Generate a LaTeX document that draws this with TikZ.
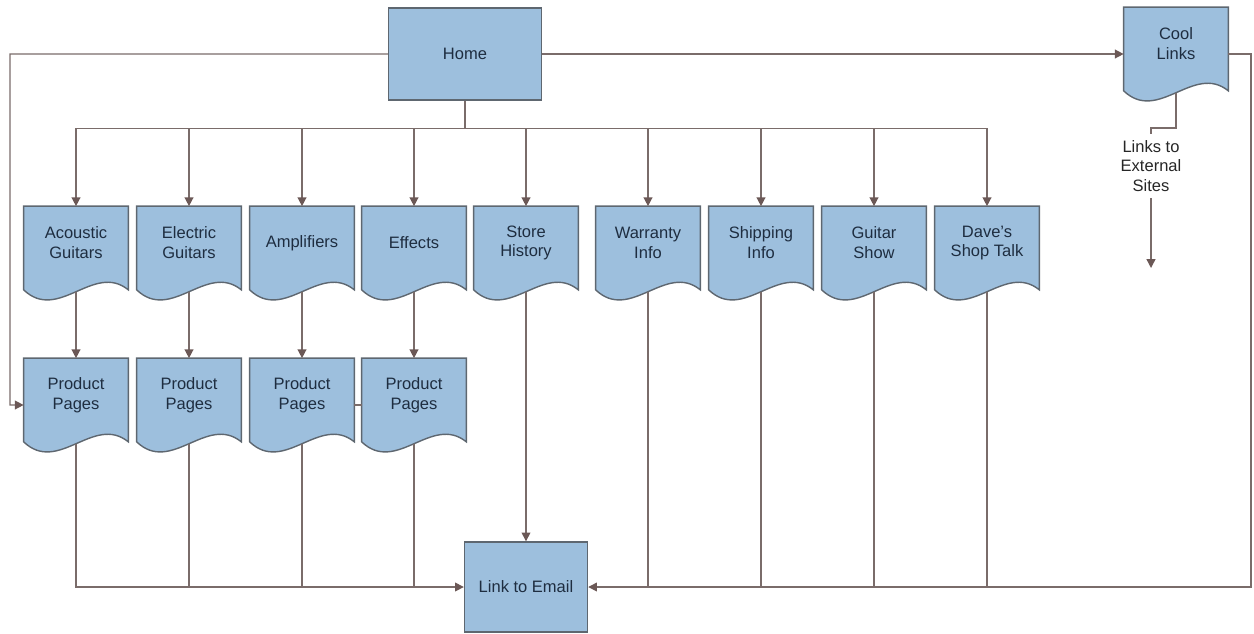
\documentclass[tikz,border=0pt]{standalone}
\usepackage{fontspec}
\setmainfont{Liberation Sans}
\usetikzlibrary{arrows.meta,backgrounds}
\definecolor{boxblue}{HTML}{9DBFDD}
\definecolor{boxedge}{HTML}{5E6770}
\definecolor{wirecol}{HTML}{7A6C6A}
\definecolor{tipcol}{HTML}{6B5856}
\definecolor{inkblue}{HTML}{1E2D40}

\begin{document}
\begin{tikzpicture}[x=0.02cm, y=-0.02cm,
    every node/.style={font=\fontsize{9.4}{11.3}\selectfont, text=inkblue, align=center},
    homebox/.style={draw=boxedge, fill=boxblue, line width=0.8pt},
    docnode/.style={minimum width=2.08cm, minimum height=1.46cm, inner sep=0pt},
    docshape/.style={draw=boxedge, fill=boxblue, line width=0.8pt},
    wire/.style={draw=wirecol, line width=0.8pt},
    arrowwire/.style={wire, -{Triangle[length=5pt,width=5pt,color=tipcol]}}]
  \useasboundingbox (0,0) rectangle (1254,633);

  \node[homebox, minimum width=3.06cm, minimum height=1.84cm] (home) at (465,54) {Home};
  \node[homebox, minimum width=2.46cm, minimum height=1.8cm] (email) at (526,587) {Link to Email};

  \node[docnode] (cool) at (1176,44) {Cool\\Links};
  \node[docnode] (acou) at (76,243) {Acoustic\\Guitars};
  \node[docnode] (elec) at (189,243) {Electric\\Guitars};
  \node[docnode] (amps) at (302,243) {Amplifiers};
  \node[docnode] (fx) at (414,243) {Effects};
  \node[docnode] (store) at (526,243) {Store\\History};
  \node[docnode] (warr) at (648,243) {Warranty\\Info};
  \node[docnode] (ship) at (761,243) {Shipping\\Info};
  \node[docnode] (show) at (874,243) {Guitar\\Show};
  \node[docnode] (talk) at (987,243) {Dave’s\\Shop Talk};
  \node[docnode] (prodA) at (76,395) {Product\\Pages};
  \node[docnode] (prodB) at (189,395) {Product\\Pages};
  \node[docnode] (prodC) at (302,395) {Product\\Pages};
  \node[docnode] (prodD) at (414,395) {Product\\Pages};

  \node[text=black!85] (ext) at (1151,166) {Links to\\External\\Sites};
  \coordinate (extend) at (1151,268);
  \coordinate (rail) at (1251,587);
  \coordinate (lrail) at (10,405);

  \begin{scope}[on background layer]
    \foreach \n in {cool,acou,elec,amps,fx,store,warr,ship,show,talk,prodA,prodB,prodC,prodD}
      \filldraw[docshape] (\n.north west) -- (\n.north east) -- ([yshift=-0.2cm]\n.south east)
        .. controls +(-0.693cm,0.56cm) and +(0.693cm,-0.66cm) .. ([yshift=-0.2cm]\n.south west) -- cycle;
  \end{scope}

  \draw[arrowwire] (home.east) -- (home.east -| cool.west);
  \draw[arrowwire] (cool.east |- home.east) -| (rail) -- (email.east);
  \draw[arrowwire] (home.west) -| (lrail) -- ([yshift=-0.2cm]prodA.west);
  \draw[wire] ([yshift=-0.24cm]cool.south) -- ++(0,35) -| (ext.north);
  \draw[arrowwire] (ext.south) -- (extend);
  \foreach \n in {acou,elec,amps,fx,store,warr,ship,show,talk}
    \draw[arrowwire] (home.south) -- ++(0,28) -| (\n.north);
  \foreach \a/\b in {acou/prodA,elec/prodB,amps/prodC,fx/prodD}
    \draw[arrowwire] ([yshift=-0.24cm]\a.south) -- (\b.north);
  \draw[arrowwire] ([yshift=-0.24cm]store.south) -- (email.north);
  \draw[arrowwire] ([yshift=-0.24cm]prodA.south) |- (email.west);
  \foreach \n in {prodB,prodC,prodD}
    \draw[wire] ([yshift=-0.24cm]\n.south) -- (\n.south |- email.west);
  \foreach \n in {warr,ship,show,talk}
    \draw[wire] ([yshift=-0.24cm]\n.south) -- (\n.south |- email.east);
  \draw[wire] ([yshift=-0.2cm]prodC.east) -- ([yshift=-0.2cm]prodD.west);
\end{tikzpicture}
\end{document}
